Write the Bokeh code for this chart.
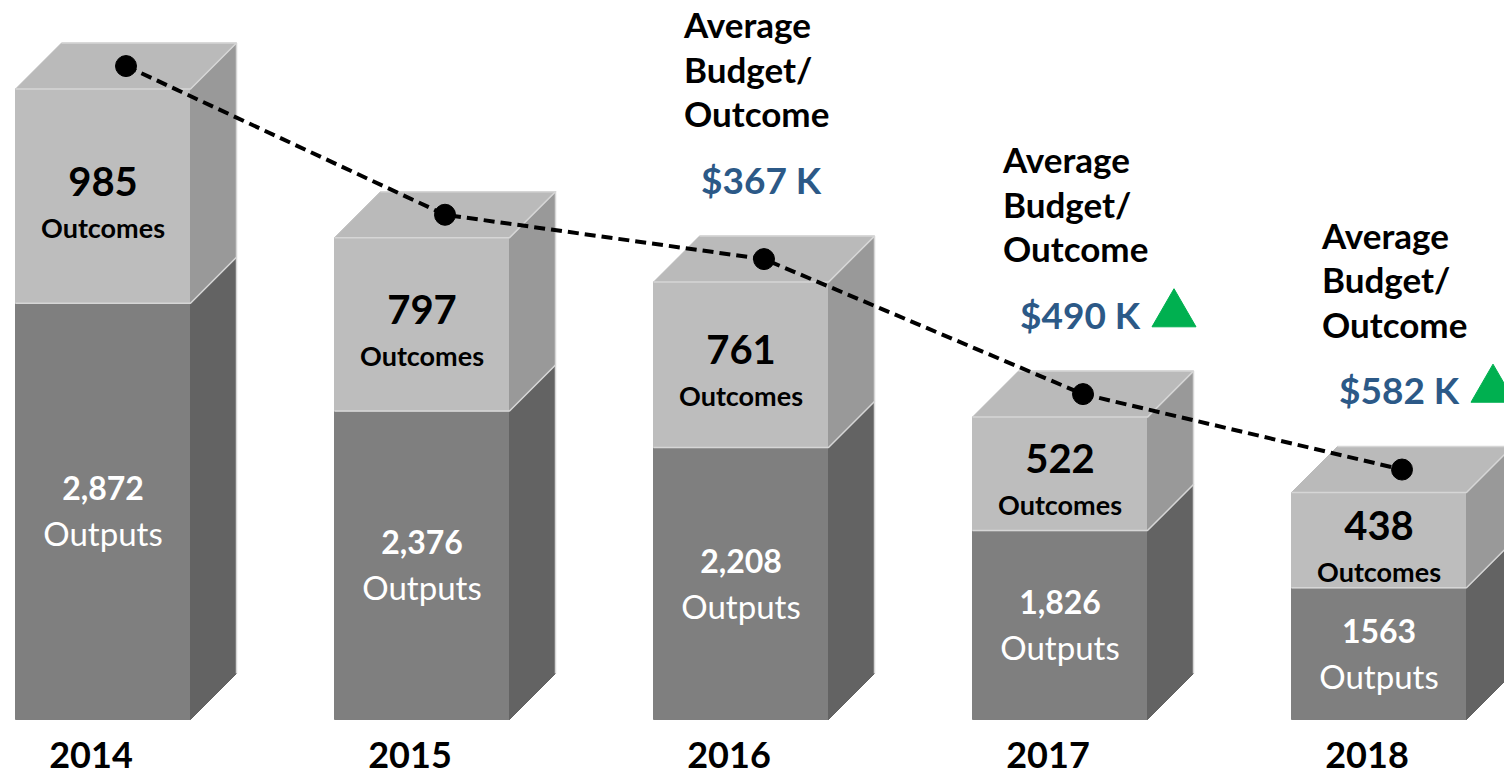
from bokeh.plotting import figure
from bokeh.models import Range1d
from bokeh.core.properties import value
from bokeh.embed import file_html
from bokeh.resources import INLINE

# ---------------- data ----------------
years = ["2014", "2015", "2016", "2017", "2018"]
outputs = [2872, 2376, 2208, 1826, 1563]
outcomes = [985, 797, 761, 522, 438]
output_labels = ["2,872", "2,376", "2,208", "1,826", "1563"]
outcome_labels = ["985", "797", "761", "522", "438"]
budget_per_outcome = [None, None, 367, 490, 582]   # $K
budget_up = [False, False, False, True, True]

# ---------------- layout (pixels / styles) ----------------
PLOT_W, PLOT_H = 1504, 774
CAT_PX = 319          # px between categories
FIRST_PX = 102.5      # px of first category centre
BAR_PX = 175
DEPTH_X_PX = 46
DEPTH_Y_PX = 46
UPP = 4.6             # data units per pixel (vertical)
BASE = 957            # value at the bar floor
BASE_PX = 55          # floor height above plot bottom
FONT = value("Lato")

C_OUT_FRONT = "#7f7f7f"
C_OUT_SIDE = "#636363"
C_OC_FRONT = "#bdbdbd"
C_OC_SIDE = "#999999"
C_TOP = "#bababa"
C_EDGE = "#d6d6d6"
C_BLUE = "#2c5987"
C_GREEN = "#00b050"


def xpx(n):
    return n / CAT_PX


def ypx(n):
    return n * UPP


x_start = -FIRST_PX / CAT_PX
y_start = BASE - BASE_PX * UPP
p = figure(width=PLOT_W, height=PLOT_H, output_backend="svg", toolbar_location=None,
           x_range=Range1d(x_start, x_start + PLOT_W / CAT_PX),
           y_range=Range1d(y_start, y_start + PLOT_H * UPP),
           min_border=0)
p.axis.visible = False
p.grid.visible = False
p.outline_line_color = None
p.background_fill_color = "white"

BW = xpx(BAR_PX)
DX = xpx(DEPTH_X_PX)
DY = ypx(DEPTH_Y_PX)

xs, ys, cols = [], [], []
for i, (o, c) in enumerate(zip(outputs, outcomes)):
    L, R = i - BW / 2, i + BW / 2
    tot = o + c
    xs.append([L, R, R, L]); ys.append([BASE, BASE, o, o]); cols.append(C_OUT_FRONT)
    xs.append([L, R, R, L]); ys.append([o, o, tot, tot]); cols.append(C_OC_FRONT)
    xs.append([R, R + DX, R + DX, R]); ys.append([BASE, BASE + DY, o + DY, o]); cols.append(C_OUT_SIDE)
    xs.append([R, R + DX, R + DX, R]); ys.append([o, o + DY, tot + DY, tot]); cols.append(C_OC_SIDE)
    xs.append([L, R, R + DX, L + DX]); ys.append([tot, tot, tot + DY, tot + DY]); cols.append(C_TOP)

p.patches(xs, ys, fill_color=cols, line_color=cols, line_width=1)

# light bevel edges
hx, hy = [], []
for i, (o, c) in enumerate(zip(outputs, outcomes)):
    L, R = i - BW / 2, i + BW / 2
    tot = o + c
    hx.append([L, R, R + DX]); hy.append([tot, tot, tot + DY])
    hx.append([L, R, R + DX]); hy.append([o, o, o + DY])
    hx.append([L + DX, R + DX, R + DX]); hy.append([tot + DY, tot + DY, BASE + DY])
p.multi_line(hx, hy, line_color=C_EDGE, line_width=1.5)

# dashed line through top faces
lx = [i + DX / 2 for i in range(len(years))]
ly = [o + c + DY / 2 for o, c in zip(outputs, outcomes)]
p.line(lx, ly, line_color="black", line_width=4, line_dash="11 6")
p.scatter(lx, ly, size=21, marker="circle", fill_color="black", line_color="black")

# labels inside bars
n = len(years)
idx = list(range(n))
mid_oc = [o + c / 2 for o, c in zip(outputs, outcomes)]
mid_out = [(BASE + o) / 2 for o in outputs]
p.text(idx, [m + ypx(15) for m in mid_oc], text=outcome_labels, text_font=FONT,
       text_font_style="bold", text_font_size="40px", text_color="black",
       text_align="center", text_baseline="middle")
p.text(idx, [m - ypx(31) for m in mid_oc], text=["Outcomes"] * n, text_font=FONT,
       text_font_style="bold", text_font_size="27px", text_color="black",
       text_align="center", text_baseline="middle")
p.text(idx, [m + ypx(23) for m in mid_out], text=output_labels, text_font=FONT,
       text_font_style="bold", text_font_size="32px", text_color="white",
       text_align="center", text_baseline="middle")
p.text(idx, [m - ypx(22) for m in mid_out], text=["Outputs"] * n, text_font=FONT,
       text_font_size="33px", text_color="white",
       text_align="center", text_baseline="middle")

# year labels
p.text([i - xpx(12) for i in idx], [BASE - ypx(35)] * n, text=years, text_font=FONT,
       text_font_style="bold", text_font_size="36px", text_color="black",
       text_align="center", text_baseline="middle")

# budget / outcome annotations
ax, ay, at = [], [], []
vx, vy, vt = [], [], []
tx, ty = [], []
for i, (o, c, b, up) in enumerate(zip(outputs, outcomes, budget_per_outcome, budget_up)):
    if b is None:
        continue
    top = o + c + DY
    for k, line in enumerate(["Outcome", "Budget/", "Average"]):
        ax.append(i - xpx(57)); ay.append(top + ypx(123 + 44.5 * k)); at.append(line)
    vx.append(i - xpx(40)); vy.append(top + ypx(57)); vt.append(f"${b} K")
    if up:
        tx.append(i - xpx(40) + xpx(154)); ty.append(top + ypx(57))

p.text(ax, ay, text=at, text_font=FONT, text_font_style="bold", text_font_size="35px",
       text_color="black", text_align="left", text_baseline="middle")
p.text(vx, vy, text=vt, text_font=FONT, text_font_style="bold", text_font_size="37px",
       text_color=C_BLUE, text_align="left", text_baseline="middle")
p.scatter(tx, ty, marker="triangle", size=44, fill_color=C_GREEN, line_color=C_GREEN)

open("out.html", "w").write(file_html(p, INLINE))
